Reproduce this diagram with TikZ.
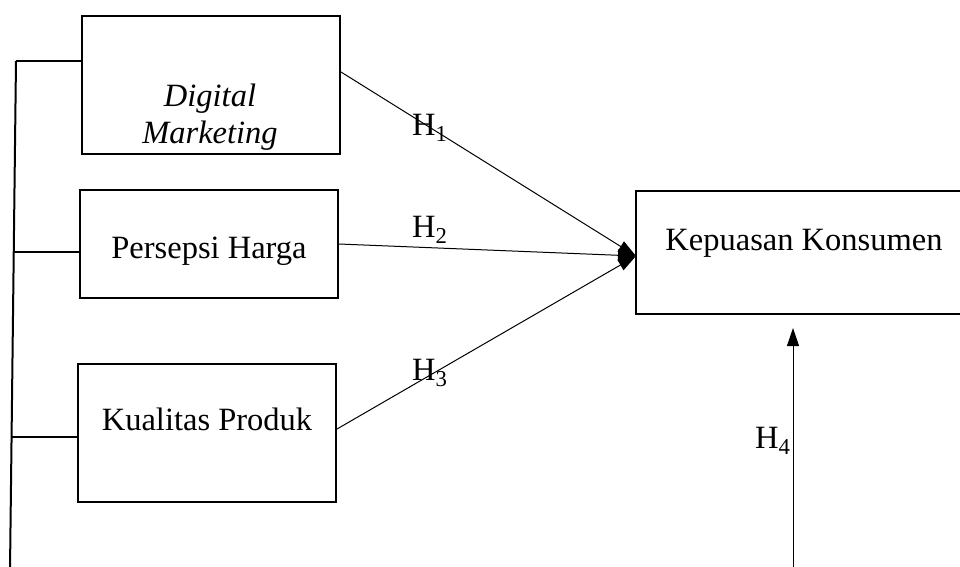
\documentclass[tikz,border=0pt]{standalone}
\usepackage{fontspec}
\setmainfont{Liberation Serif}
\usepackage{tikz}
\usetikzlibrary{arrows.meta}

\tikzset{
    box/.style={draw, line width=2pt, inner sep=0pt},
    txt/.style={font=\fontsize{32.5}{37}\selectfont, inner sep=0pt, align=center},
    hyp/.style={font=\fontsize{32.5}{37}\selectfont, inner sep=0pt},
    link/.style={line width=2pt},
    hpath/.style={line width=1pt, -{Triangle[length=18pt,width=12pt]}}
}

\begin{document}
\begin{tikzpicture}[x=1pt, y=-1pt]
    \useasboundingbox (0,0) rectangle (960,566);

    % Boxes
    \node[box, minimum width=258pt, minimum height=138pt] (dm) at (211,85) {};
    \node[box, minimum width=258pt, minimum height=108pt] (ph) at (209,244) {};
    \node[box, minimum width=258pt, minimum height=138pt] (kp) at (207,433) {};
    \node[box, minimum width=330pt, minimum height=123pt] (kk) at (801,252.5) {};

    % Texts
    \node[txt] (dmtxt) at (210,117) {\itshape Digital\\\itshape Marketing};
    \node[txt, anchor=base] (phtxt) at (209,258) {Persepsi Harga};
    \node[txt, anchor=base] (kptxt) at (207,430) {Kualitas Produk};
    \node[txt, anchor=base] (kktxt) at (804,250) {Kepuasan Konsumen};

    % Left bracket
    \coordinate (ttop) at (16,61);
    \coordinate (tbot) at (10,570);
    \coordinate (b2) at (14,252);
    \coordinate (b3) at (12,437);
    \draw[link] (ttop) -- (tbot);
    \draw[link] (ttop) -- (dm.west |- ttop);
    \draw[link] (b2) -- (ph.west |- b2);
    \draw[link] (b3) -- (kp.west |- b3);

    % Hypothesis paths
    \coordinate (tip) at (636,256);
    \draw[hpath] ([yshift=13pt]dm.east) -- (tip);
    \draw[hpath] (ph.east) -- (tip);
    \draw[hpath] ([yshift=4pt]kp.east) -- (tip);
    \coordinate (h4base) at (793,570);
    \coordinate (h4top) at (793,328);
    \draw[hpath] (h4base) -- (h4top);

    % Labels
    \node[hyp, anchor=base west] (h1) at (412,135) {H\textsubscript{1}};
    \node[hyp, anchor=base west] (h2) at (412,237) {H\textsubscript{2}};
    \node[hyp, anchor=base west] (h3) at (412,380) {H\textsubscript{3}};
    \node[hyp, anchor=base west] (h4) at (755,448) {H\textsubscript{4}};
\end{tikzpicture}
\end{document}
